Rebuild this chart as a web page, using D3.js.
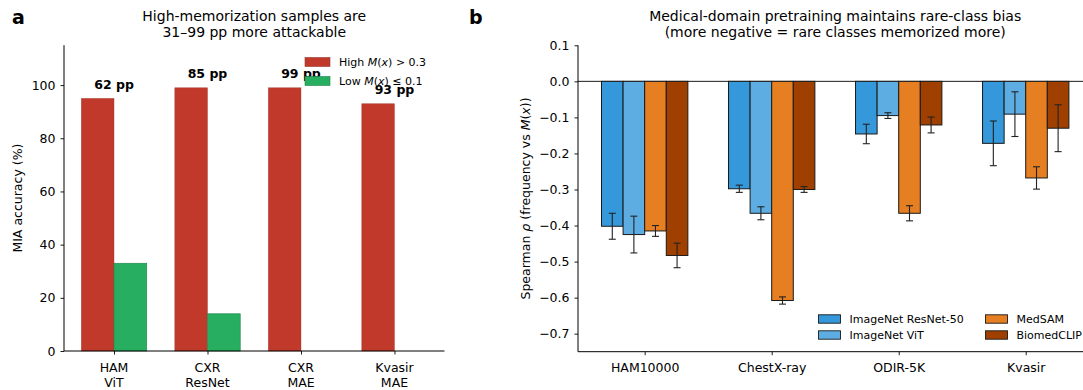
<!DOCTYPE html>
<html>
<head>
<meta charset="utf-8">
<script src="https://cdn.jsdelivr.net/npm/d3@7"></script>
<style>
  body { margin: 0; background: #fff; }
  svg { display: block; font-family: "DejaVu Sans", sans-serif; }
  text { fill: #000; }
</style>
</head>
<body>
<svg id="chart" width="1083" height="390"></svg>
<script>
// ---------- Panel a data ----------
const catsA = [["HAM", "ViT"], ["CXR", "ResNet"], ["CXR", "MAE"], ["Kvasir", "MAE"]];
const highA = [95, 99, 99, 93];
const lowA = [33, 14, 0, 0];
const gapLabelsA = ["62 pp", "85 pp", "99 pp", "93 pp"];
const yTicksA = [0, 20, 40, 60, 80, 100];

// ---------- Panel b data ----------
const catsB = ["HAM10000", "ChestX-ray", "ODIR-5K", "Kvasir"];
const seriesB = ["ImageNet ResNet-50", "ImageNet ViT", "MedSAM", "BiomedCLIP"];
const resnetVals = [-0.402, -0.298, -0.146, -0.172];
const resnetErr = [0.036, 0.010, 0.027, 0.062];
const vitVals = [-0.425, -0.366, -0.095, -0.091];
const vitErr = [0.051, 0.018, 0.008, 0.062];
const medsamVals = [-0.415, -0.608, -0.366, -0.268];
const medsamErr = [0.015, 0.010, 0.021, 0.031];
const biomedVals = [-0.483, -0.300, -0.121, -0.130];
const biomedErr = [0.034, 0.008, 0.022, 0.065];
const yTicksB = [0.1, 0.0, -0.1, -0.2, -0.3, -0.4, -0.5, -0.6, -0.7];

const colorsB = ["#3498db", "#5dade2", "#e67e22", "#a04000"];
const valsB = [resnetVals, vitVals, medsamVals, biomedVals];
const errsB = [resnetErr, vitErr, medsamErr, biomedErr];

const svg = d3.select("#chart");
const TICK = 12.5;

// ================= PANEL A =================
const xA = d3.scaleLinear().domain([-0.535, 3.535]).range([64, 444.5]);
const yA = d3.scaleLinear().domain([0, 115]).range([351, 45.2]);
const wA = 0.35;
const gA = svg.append("g");

// bars
gA.selectAll("rect.high").data(highA).join("rect")
  .attr("x", (d, i) => xA(i - wA)).attr("width", xA(wA) - xA(0))
  .attr("y", d => yA(d)).attr("height", d => yA(0) - yA(d))
  .attr("fill", "#c0392b").attr("stroke", "#9a3a30").attr("stroke-width", 0.6).attr("stroke-opacity", 0.6);
gA.selectAll("rect.low").data(lowA).join("rect")
  .attr("x", (d, i) => xA(i)).attr("width", xA(wA) - xA(0))
  .attr("y", d => yA(d)).attr("height", d => yA(0) - yA(d))
  .attr("fill", "#27ae60").attr("stroke", "#1e8449").attr("stroke-width", d => d > 0 ? 0.6 : 0);

// gap labels
gA.selectAll("text.gap").data(gapLabelsA).join("text")
  .attr("x", (d, i) => xA(i)).attr("y", (d, i) => yA(Math.max(highA[i], lowA[i]) + 3.6))
  .attr("text-anchor", "middle").attr("font-size", TICK).attr("font-weight", "bold")
  .text(d => d);

// axes
const axLeftA = gA.append("g").attr("transform", `translate(${xA.range()[0]},0)`)
  .call(d3.axisLeft(yA).tickValues(yTicksA).tickSize(3.5).tickPadding(5).tickFormat(d3.format("d")));
const axBotA = gA.append("g").attr("transform", `translate(0,${yA(0)})`)
  .call(d3.axisBottom(xA).tickValues(d3.range(catsA.length)).tickSize(3.5).tickFormat(""));
[axLeftA, axBotA].forEach(ax => {
  ax.select(".domain").attr("stroke", "#000").attr("stroke-width", 1).attr("d", null);
  ax.selectAll(".tick line").attr("stroke", "#000").attr("stroke-width", 0.9);
  ax.selectAll(".tick text").attr("font-size", TICK).attr("fill", "#000").attr("font-family", "DejaVu Sans");
});
axLeftA.select(".domain").remove();
axBotA.select(".domain").remove();
gA.append("line").attr("x1", xA.range()[0]).attr("x2", xA.range()[0]).attr("y1", yA.range()[1]).attr("y2", yA(0)).attr("stroke", "#000").attr("stroke-width", 1);
gA.append("line").attr("x1", xA.range()[0]).attr("x2", xA.range()[1]).attr("y1", yA(0)).attr("y2", yA(0)).attr("stroke", "#000").attr("stroke-width", 1);

// x tick labels (two lines)
catsA.forEach((c, i) => {
  const t = gA.append("text").attr("x", xA(i)).attr("text-anchor", "middle").attr("font-size", TICK);
  t.append("tspan").attr("x", xA(i)).attr("y", 371.5).text(c[0]);
  t.append("tspan").attr("x", xA(i)).attr("y", 386.5).text(c[1]);
});

// y label
gA.append("text").attr("transform", `translate(17,${(yA.range()[0] + yA.range()[1]) / 2}) rotate(-90)`)
  .attr("text-anchor", "middle").attr("dominant-baseline", "central").attr("font-size", TICK)
  .text("MIA accuracy (%)");

// title
const cxA = (xA.range()[0] + xA.range()[1]) / 2;
gA.append("text").attr("x", cxA).attr("y", 21).attr("text-anchor", "middle").attr("font-size", 14)
  .text("High-memorization samples are");
gA.append("text").attr("x", cxA).attr("y", 37).attr("text-anchor", "middle").attr("font-size", 14)
  .text("31–99 pp more attackable");

// panel letter
svg.append("text").attr("x", 12).attr("y", 24).attr("font-size", 19).attr("font-weight", "bold").text("a");

// legend a
const legA = [
  { color: "#c0392b", stroke: "#9a3a30", pre: "High ", op: " > 0.3" },
  { color: "#27ae60", stroke: "#1e8449", pre: "Low ", op: " ≤ 0.1" }
];
legA.forEach((d, i) => {
  const cy = 62 + i * 19;
  gA.append("rect").attr("x", 305).attr("y", cy - 4.5).attr("width", 25).attr("height", 9)
    .attr("fill", d.color).attr("stroke", d.stroke).attr("stroke-width", 0.6);
  const t = gA.append("text").attr("x", 339).attr("y", cy + 4).attr("font-size", 11);
  t.append("tspan").text(d.pre);
  t.append("tspan").attr("font-style", "italic").text("M");
  t.append("tspan").text("(");
  t.append("tspan").attr("font-style", "italic").text("x");
  t.append("tspan").text(")" + d.op);
});

// ================= PANEL B =================
const xB = d3.scaleLinear().domain([-0.525, 3.525]).range([578, 1092.4]);
const yB = d3.scaleLinear().domain([-0.75, 0.1]).range([351.7, 45.3]);
const wB = 0.17;
const gB = svg.append("g");

// zero line
gB.append("line").attr("x1", xB.range()[0]).attr("x2", xB.range()[1]).attr("y1", yB(0)).attr("y2", yB(0))
  .attr("stroke", "#000").attr("stroke-width", 0.9);

seriesB.forEach((s, j) => {
  const off = (j - 1.5) * wB;
  gB.selectAll(`rect.s${j}`).data(valsB[j]).join("rect")
    .attr("x", (d, i) => xB(i + off - wB / 2)).attr("width", xB(wB) - xB(0))
    .attr("y", d => yB(Math.max(0, d))).attr("height", d => Math.abs(yB(d) - yB(0)))
    .attr("fill", colorsB[j]).attr("stroke", "#1a1a1a").attr("stroke-width", 1);
});
seriesB.forEach((s, j) => {
  const off = (j - 1.5) * wB;
  valsB[j].forEach((v, i) => {
    const cx = xB(i + off), e = errsB[j][i];
    const eg = gB.append("g").attr("stroke", "#222").attr("stroke-width", 1.1);
    eg.append("line").attr("x1", cx).attr("x2", cx).attr("y1", yB(v - e)).attr("y2", yB(v + e));
    eg.append("line").attr("x1", cx - 3.5).attr("x2", cx + 3.5).attr("y1", yB(v - e)).attr("y2", yB(v - e));
    eg.append("line").attr("x1", cx - 3.5).attr("x2", cx + 3.5).attr("y1", yB(v + e)).attr("y2", yB(v + e));
  });
});

const axLeftB = gB.append("g").attr("transform", `translate(${xB.range()[0]},0)`)
  .call(d3.axisLeft(yB).tickValues(yTicksB).tickSize(3.5).tickPadding(5).tickFormat(d3.format(".1f")));
const axBotB = gB.append("g").attr("transform", `translate(0,${yB.range()[0]})`)
  .call(d3.axisBottom(xB).tickValues(d3.range(catsB.length)).tickSize(3.5).tickPadding(5).tickFormat(i => catsB[i]));
[axLeftB, axBotB].forEach(ax => {
  ax.select(".domain").remove();
  ax.selectAll(".tick line").attr("stroke", "#000").attr("stroke-width", 0.9);
  ax.selectAll(".tick text").attr("font-size", TICK).attr("fill", "#000").attr("font-family", "DejaVu Sans");
});
axBotB.selectAll(".tick text").attr("dy", null).attr("y", 20.3);
gB.append("line").attr("x1", xB.range()[0]).attr("x2", xB.range()[0]).attr("y1", yB.range()[1]).attr("y2", yB.range()[0]).attr("stroke", "#000").attr("stroke-width", 1);
gB.append("line").attr("x1", xB.range()[0]).attr("x2", xB.range()[1]).attr("y1", yB.range()[0]).attr("y2", yB.range()[0]).attr("stroke", "#000").attr("stroke-width", 1);

// y label
const ylB = gB.append("text").attr("transform", `translate(525,${(yB.range()[0] + yB.range()[1]) / 2}) rotate(-90)`)
  .attr("text-anchor", "middle").attr("dominant-baseline", "central").attr("font-size", TICK);
ylB.append("tspan").text("Spearman ");
ylB.append("tspan").attr("font-style", "italic").text("ρ");
ylB.append("tspan").text(" (frequency vs ");
ylB.append("tspan").attr("font-style", "italic").text("M");
ylB.append("tspan").text("(");
ylB.append("tspan").attr("font-style", "italic").text("x");
ylB.append("tspan").text("))");

// title
const cxB = (xB.range()[0] + xB.range()[1]) / 2;
gB.append("text").attr("x", cxB).attr("y", 21).attr("text-anchor", "middle").attr("font-size", 14)
  .text("Medical-domain pretraining maintains rare-class bias");
gB.append("text").attr("x", cxB).attr("y", 37).attr("text-anchor", "middle").attr("font-size", 14)
  .text("(more negative = rare classes memorized more)");

svg.append("text").attr("x", 469).attr("y", 24).attr("font-size", 19).attr("font-weight", "bold").text("b");

// legend b (2 columns)
const legPos = [[818.5, 319], [818.5, 335], [985.5, 319], [985.5, 335]];
seriesB.forEach((s, j) => {
  const [lx, ly] = legPos[j];
  gB.append("rect").attr("x", lx).attr("y", ly - 4.2).attr("width", 22).attr("height", 8.4)
    .attr("fill", colorsB[j]).attr("stroke", "#1a1a1a").attr("stroke-width", 0.9);
  gB.append("text").attr("x", lx + 31).attr("y", ly + 4).attr("font-size", 11).text(s);
});
</script>
</body>
</html>
